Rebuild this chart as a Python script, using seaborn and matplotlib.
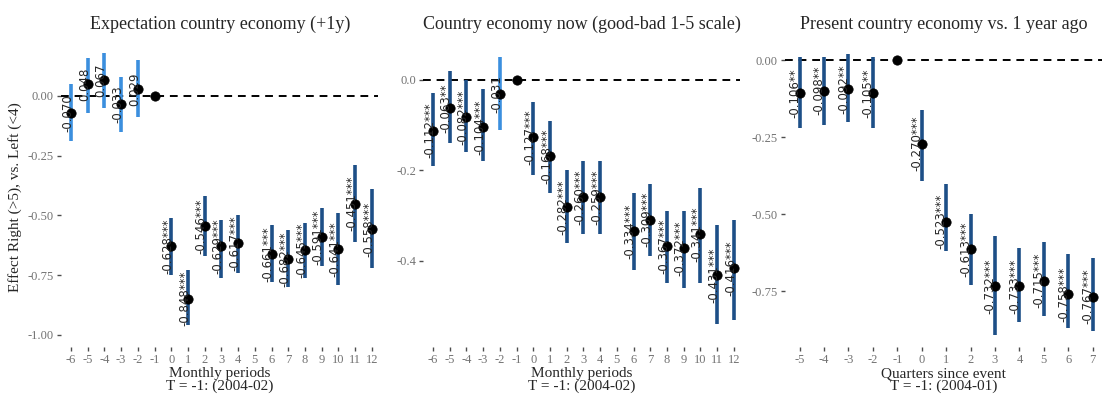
import matplotlib
matplotlib.use("Agg")
import matplotlib.pyplot as plt
import seaborn as sns
import pandas as pd

# Panel 1: Expectation country economy (+1y)
p1_x = [-6, -5, -4, -3, -2, -1, 0, 1, 2, 3, 4, 6, 7, 8, 9, 10, 11, 12]
p1_est = [-0.070, 0.048, 0.067, -0.033, 0.029, 0.0, -0.628, -0.848, -0.546, -0.629,
          -0.617, -0.661, -0.682, -0.645, -0.591, -0.641, -0.451, -0.558]
p1_lo = [-0.19, -0.07, -0.05, -0.15, -0.09, None, -0.75, -0.96, -0.67, -0.76,
         -0.74, -0.78, -0.80, -0.76, -0.71, -0.79, -0.61, -0.72]
p1_hi = [0.05, 0.16, 0.18, 0.08, 0.15, None, -0.51, -0.73, -0.42, -0.52,
         -0.50, -0.54, -0.56, -0.53, -0.47, -0.49, -0.29, -0.39]
p1_lab = ["-0.070", "0.048", "0.067", "-0.033", "0.029", "", "-0.628***", "-0.848***",
          "-0.546***", "-0.629***", "-0.617***", "-0.661***", "-0.682***", "-0.645***",
          "-0.591***", "-0.641***", "-0.451***", "-0.558***"]

# Panel 2: Country economy now
p2_x = p1_x
p2_est = [-0.112, -0.063, -0.082, -0.104, -0.031, 0.0, -0.127, -0.168, -0.282, -0.260,
          -0.259, -0.334, -0.309, -0.367, -0.372, -0.341, -0.431, -0.416]
p2_lo = [-0.19, -0.14, -0.16, -0.18, -0.11, None, -0.21, -0.25, -0.36, -0.34,
         -0.34, -0.42, -0.39, -0.45, -0.46, -0.45, -0.54, -0.53]
p2_hi = [-0.03, 0.02, 0.0, -0.02, 0.05, None, -0.05, -0.09, -0.20, -0.18,
         -0.18, -0.25, -0.23, -0.29, -0.29, -0.24, -0.32, -0.31]
p2_lab = ["-0.112***", "-0.063**", "-0.082***", "-0.104***", "-0.031", "", "-0.127***",
          "-0.168***", "-0.282***", "-0.260***", "-0.259***", "-0.334***", "-0.309***",
          "-0.367***", "-0.372***", "-0.341***", "-0.431***", "-0.416***"]

# Panel 3: Present country economy vs. 1 year ago
p3_x = [-5, -4, -3, -2, -1, 0, 1, 2, 3, 4, 5, 6, 7]
p3_est = [-0.106, -0.098, -0.092, -0.105, 0.0, -0.270, -0.523, -0.613, -0.732,
          -0.733, -0.715, -0.758, -0.767]
p3_lo = [-0.22, -0.21, -0.20, -0.22, None, -0.39, -0.62, -0.73, -0.89, -0.85,
         -0.83, -0.87, -0.88]
p3_hi = [0.01, 0.01, 0.02, 0.01, None, -0.16, -0.40, -0.50, -0.57, -0.61,
         -0.59, -0.63, -0.64]
p3_lab = ["-0.106**", "-0.098**", "-0.092**", "-0.105**", "", "-0.270***", "-0.523***",
          "-0.613***", "-0.732***", "-0.733***", "-0.715***", "-0.758***", "-0.767***"]

DARK = "#1d4f87"
LIGHT = "#3b8fde"

sns.set_theme(style="white")
plt.rcParams["font.family"] = ["Liberation Serif", "DejaVu Serif"]


def panel(ax, x, est, lo, hi, lab, title, xticks, yticks, ytl, ylim, xlabel, unit):
    df = pd.DataFrame(dict(x=x, est=est, lo=lo, hi=hi, lab=lab))
    ax.axhline(0, color="black", ls=(0, (4, 3)), lw=1.4, zorder=1)
    for r in df.itertuples():
        if pd.notna(r.lo):
            c = DARK if "*" in r.lab else LIGHT
            ax.vlines(r.x, r.lo, r.hi, color=c, lw=2.6, zorder=2)
    sns.scatterplot(data=df, x="x", y="est", color="black", s=45, ax=ax,
                    edgecolor="black", zorder=3, legend=False)
    for r in df.itertuples():
        if r.lab:
            ax.text(r.x - 0.2, r.est, r.lab, rotation=90, ha="center", va="center",
                    fontsize=8.5, family="DejaVu Sans", zorder=4)
    ax.set_title(title, fontsize=13, pad=14)
    ax.set_xticks(xticks)
    ax.set_xticklabels([str(t) for t in xticks], color="0.45", fontsize=9)
    ax.set_yticks(yticks)
    ax.set_yticklabels(ytl, color="0.45", fontsize=9)
    ax.set_ylim(*ylim)
    ax.set_xlim(xticks[0] - 0.6, xticks[-1] + 0.4)
    ax.set_xlabel(xlabel + "\n" + unit, fontsize=11, labelpad=1, linespacing=0.95)
    ax.set_ylabel("")
    ax.tick_params(axis="both", length=3, width=1, color="0.3", pad=2,
                   bottom=True, left=True)
    for s in ax.spines.values():
        s.set_visible(False)


fig, axes = plt.subplots(1, 3, figsize=(11.08, 4.01), dpi=100)
panel(axes[0], p1_x, p1_est, p1_lo, p1_hi, p1_lab, "Expectation country economy (+1y)",
      list(range(-6, 13)), [-1.0, -0.75, -0.5, -0.25, 0.0],
      ["-1.00", "-0.75", "-0.50", "-0.25", "0.00"], (-1.05, 0.2),
      "Monthly periods", "T = -1: (2004-02)")
axes[0].set_ylabel("Effect Right (>5), vs. Left (<4)", fontsize=11)
panel(axes[1], p2_x, p2_est, p2_lo, p2_hi, p2_lab, "Country economy now (good-bad 1-5 scale)",
      list(range(-6, 13)), [-0.4, -0.2, 0.0], ["-0.4", "-0.2", "0.0"], (-0.59, 0.07),
      "Monthly periods", "T = -1: (2004-02)")
panel(axes[2], p3_x, p3_est, p3_lo, p3_hi, p3_lab, "Present country economy vs. 1 year ago",
      list(range(-5, 8)), [-0.75, -0.5, -0.25, 0.0], ["-0.75", "-0.50", "-0.25", "0.00"],
      (-0.93, 0.04), "Quarters since event", "T = -1: (2004-01)")

fig.subplots_adjust(left=0.055, right=0.995, top=0.88, bottom=0.135, wspace=0.14)
fig.savefig("out.png", dpi=100)
